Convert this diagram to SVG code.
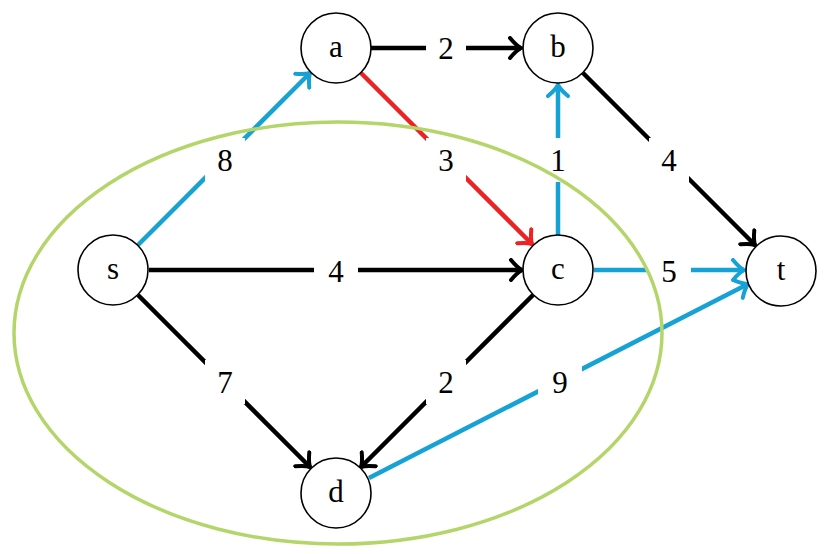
<svg xmlns="http://www.w3.org/2000/svg" width="830" height="554" viewBox="0 0 830 554">
<defs>
<style>
.e{stroke-width:4.5;fill:none}
.k{stroke:#000}
.bl{stroke:#17a2d6}
.r{stroke:#ee2222}
.n circle{fill:#fff;stroke:#000;stroke-width:1.6}
text{font-family:"Liberation Serif","DejaVu Serif",serif;font-size:31px;text-anchor:middle;dominant-baseline:central;fill:#000}
.lb rect{fill:#fff}
</style>
<marker id="mk" viewBox="-14 -12 16 24" markerWidth="16" markerHeight="24" refX="0" refY="0" orient="auto" markerUnits="userSpaceOnUse">
<path d="M-11,-10 C-6,-4 -2,-1 0,0 C-2,1 -6,4 -11,10" fill="none" stroke="#000" stroke-width="4" stroke-linecap="round"/>
</marker>
<marker id="mb" viewBox="-14 -12 16 24" markerWidth="16" markerHeight="24" refX="0" refY="0" orient="auto" markerUnits="userSpaceOnUse">
<path d="M-11,-10 C-6,-4 -2,-1 0,0 C-2,1 -6,4 -11,10" fill="none" stroke="#17a2d6" stroke-width="4" stroke-linecap="round"/>
</marker>
<marker id="mr" viewBox="-14 -12 16 24" markerWidth="16" markerHeight="24" refX="0" refY="0" orient="auto" markerUnits="userSpaceOnUse">
<path d="M-11,-10 C-6,-4 -2,-1 0,0 C-2,1 -6,4 -11,10" fill="none" stroke="#ee2222" stroke-width="4" stroke-linecap="round"/>
</marker>
</defs>
<rect width="830" height="554" fill="#fff"/>
<g id="connectors">
<line class="e k" x1="371" y1="48" x2="521" y2="48" marker-end="url(#mk)"/>
<line class="e r" x1="361" y1="73" x2="532" y2="244" marker-end="url(#mr)"/>
<line class="e bl" x1="138" y1="245" x2="310" y2="73" marker-end="url(#mb)"/>
<line class="e bl" x1="558" y1="235" x2="558" y2="85" marker-end="url(#mb)"/>
<line class="e k" x1="583" y1="73" x2="755" y2="245" marker-end="url(#mk)"/>
<line class="e k" x1="149" y1="270" x2="522" y2="270" marker-end="url(#mk)"/>
<line class="e bl" x1="594" y1="270" x2="744" y2="270" marker-end="url(#mb)"/>
<line class="e k" x1="138" y1="295" x2="310" y2="467" marker-end="url(#mk)"/>
<line class="e k" x1="533" y1="295" x2="361" y2="467" marker-end="url(#mk)"/>
<line class="e bl" x1="369" y1="478" x2="748" y2="284" marker-end="url(#mb)"/>
<g class="lb">
<rect x="426" y="26" width="40" height="44"/>
<rect x="426" y="138" width="40" height="44"/>
<rect x="205" y="138" width="40" height="44"/>
<rect x="538" y="138" width="40" height="44"/>
<rect x="649" y="138" width="40" height="44"/>
<rect x="314" y="250" width="44" height="42"/>
<rect x="647" y="250" width="44" height="42"/>
<rect x="205" y="360" width="40" height="44"/>
<rect x="426" y="360" width="40" height="44"/>
<rect x="538" y="360" width="44" height="44"/>
</g>
<text x="446" y="48">2</text>
<text x="446" y="160">3</text>
<text x="225" y="160">8</text>
<text x="558" y="160">1</text>
<text x="669" y="160">4</text>
<text x="336" y="271">4</text>
<text x="669" y="271">5</text>
<text x="225" y="382">7</text>
<text x="446" y="382">2</text>
<text x="560" y="382">9</text>
</g>
<ellipse cx="338" cy="333" rx="324" ry="211" fill="none" stroke="#b4d56a" stroke-width="3.5"/>
<g id="node-a" class="n"><circle cx="336" cy="48" r="35"/><text x="336" y="46">a</text></g>
<g id="node-b" class="n"><circle cx="558" cy="48" r="35"/><text x="558" y="46">b</text></g>
<g id="node-s" class="n"><circle cx="113" cy="270" r="35"/><text x="113" y="268">s</text></g>
<g id="node-c" class="n"><circle cx="558" cy="270" r="35"/><text x="558" y="268">c</text></g>
<g id="node-t" class="n"><circle cx="781" cy="271" r="35"/><text x="781" y="269">t</text></g>
<g id="node-d" class="n"><circle cx="336" cy="493" r="35"/><text x="336" y="491">d</text></g>
</svg>
